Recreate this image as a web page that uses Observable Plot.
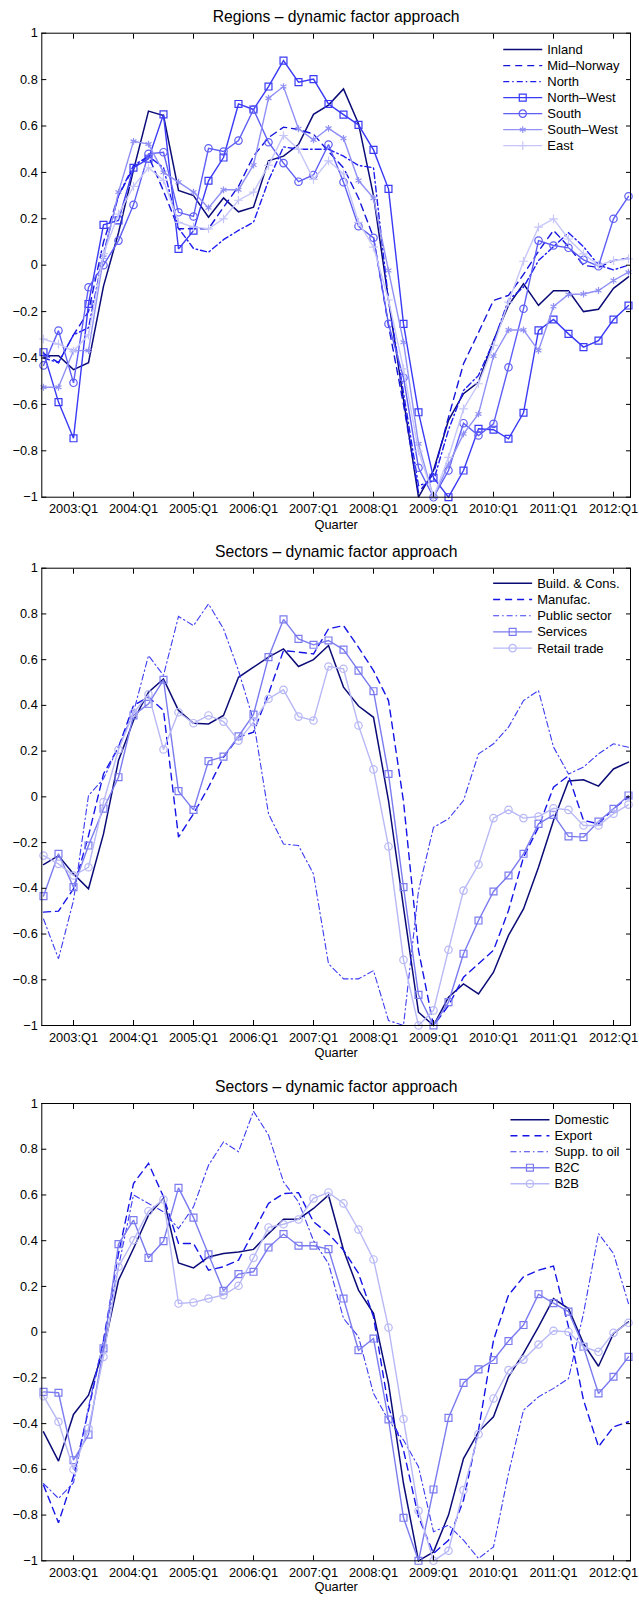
<!DOCTYPE html>
<html><head><meta charset="utf-8">
<script src="https://cdn.jsdelivr.net/npm/d3@7"></script>
<script src="https://cdn.jsdelivr.net/npm/@observablehq/plot@0.6"></script>
<style>
body{margin:0;background:#fff;}
#chart{width:639px;}
#chart svg{display:block;}
</style>
</head><body><div id="chart"></div>
<script>
// ---------- data ----------
const quarters = ["2002:Q3","2002:Q4","2003:Q1","2003:Q2","2003:Q3","2003:Q4","2004:Q1","2004:Q2","2004:Q3","2004:Q4",
  "2005:Q1","2005:Q2","2005:Q3","2005:Q4","2006:Q1","2006:Q2","2006:Q3","2006:Q4","2007:Q1","2007:Q2",
  "2007:Q3","2007:Q4","2008:Q1","2008:Q2","2008:Q3","2008:Q4","2009:Q1","2009:Q2","2009:Q3","2009:Q4",
  "2010:Q1","2010:Q2","2010:Q3","2010:Q4","2011:Q1","2011:Q2","2011:Q3","2011:Q4","2012:Q1","2012:Q2"];
const xTickLabels = ["2003:Q1","2004:Q1","2005:Q1","2006:Q1","2007:Q1","2008:Q1","2009:Q1","2010:Q1","2011:Q1","2012:Q1"];
const yTickValues = [-1,-0.8,-0.6,-0.4,-0.2,0,0.2,0.4,0.6,0.8,1];

// Panel 1: regions
const inland = [-0.39,-0.39,-0.45,-0.42,-0.09,0.14,0.41,0.664,0.645,0.322,0.3,0.207,0.29,0.23,0.25,0.45,0.47,0.52,0.65,0.69,0.76,0.61,0.3,-0.15,-0.58,-1.0,-0.885,-0.669,-0.554,-0.504,-0.325,-0.173,-0.08,-0.173,-0.11,-0.11,-0.2,-0.19,-0.1,-0.05];
const midNorway = [-0.38,-0.42,-0.3,-0.2,0.1,0.3,0.42,0.47,0.32,0.157,0.157,0.157,0.25,0.34,0.47,0.55,0.595,0.585,0.565,0.49,0.42,0.29,0.12,-0.26,-0.6,-0.98,-0.9,-0.655,-0.425,-0.29,-0.152,-0.13,-0.04,0.06,0.15,0.08,0.0,-0.01,0.02,0.03];
const north = [-0.4,-0.42,-0.3,-0.27,0.05,0.3,0.43,0.47,0.42,0.16,0.072,0.056,0.11,0.15,0.185,0.365,0.51,0.5,0.5,0.5,0.47,0.43,0.42,-0.15,-0.55,-0.95,-0.93,-0.71,-0.54,-0.475,-0.33,-0.15,-0.095,0.02,0.08,0.14,0.08,0.0,-0.02,0.0];
const northWest = [-0.375,-0.59,-0.746,-0.167,0.174,0.193,0.42,0.459,0.65,0.07,0.149,0.364,0.464,0.695,0.671,0.77,0.882,0.789,0.802,0.695,0.649,0.605,0.497,0.329,-0.253,-0.634,-0.916,-1.0,-0.885,-0.705,-0.709,-0.748,-0.636,-0.281,-0.234,-0.296,-0.353,-0.325,-0.234,-0.174];
const south = [-0.432,-0.282,-0.507,-0.095,0.0,0.106,0.26,0.48,0.487,0.228,0.21,0.504,0.49,0.537,0.671,0.53,0.44,0.36,0.389,0.52,0.358,0.168,0.118,-0.253,-0.485,-0.873,-1.0,-0.885,-0.681,-0.734,-0.684,-0.44,-0.188,0.106,0.085,0.075,0.023,-0.004,0.2,0.297];
const southWest = [-0.526,-0.526,-0.368,-0.368,0.034,0.315,0.534,0.522,0.4,0.358,0.315,0.247,0.325,0.325,0.432,0.72,0.77,0.588,0.54,0.59,0.547,0.365,0.289,-0.023,-0.332,-0.77,-1.0,-0.86,-0.727,-0.641,-0.392,-0.279,-0.279,-0.368,-0.178,-0.126,-0.124,-0.109,-0.066,-0.03];
const east = [-0.318,-0.34,-0.37,-0.3,0.05,0.22,0.34,0.42,0.366,0.185,0.164,0.157,0.2,0.28,0.315,0.43,0.559,0.5,0.37,0.45,0.394,0.185,0.078,-0.15,-0.447,-0.8,-1.0,-0.828,-0.619,-0.511,-0.346,-0.159,0.017,0.164,0.2,0.113,0.049,0.0,0.02,0.027];

// Panel 2: sectors
const buildCons = [-0.296,-0.257,-0.337,-0.402,-0.162,0.159,0.334,0.458,0.516,0.378,0.322,0.319,0.356,0.523,0.567,0.611,0.647,0.57,0.6,0.662,0.48,0.397,0.348,-0.016,-0.483,-0.942,-1.0,-0.876,-0.818,-0.862,-0.767,-0.606,-0.49,-0.308,-0.103,0.069,0.075,0.047,0.122,0.152];
const manufac = [-0.504,-0.5,-0.402,-0.17,0.1,0.217,0.4,0.436,0.378,-0.176,-0.074,0.042,0.173,0.261,0.283,0.45,0.64,0.633,0.625,0.735,0.749,0.654,0.552,0.421,-0.02,-0.67,-1.0,-0.913,-0.789,-0.73,-0.671,-0.497,-0.264,-0.133,0.042,0.093,-0.103,-0.118,-0.052,-0.001];
const publicSector = [-0.534,-0.708,-0.453,0.006,0.079,0.22,0.37,0.618,0.531,0.789,0.749,0.844,0.735,0.552,0.334,-0.074,-0.206,-0.213,-0.337,-0.73,-0.796,-0.796,-0.76,-0.978,-1.0,-0.41,-0.133,-0.096,-0.016,0.188,0.232,0.305,0.421,0.465,0.218,0.1,0.13,0.188,0.232,0.217];
const services = [-0.434,-0.249,-0.395,-0.213,-0.052,0.086,0.356,0.407,0.512,0.025,-0.057,0.156,0.176,0.265,0.36,0.611,0.776,0.691,0.665,0.684,0.644,0.552,0.462,0.1,-0.395,-0.866,-1.0,-0.898,-0.686,-0.541,-0.414,-0.344,-0.249,-0.118,-0.079,-0.173,-0.176,-0.108,-0.052,0.006];
const retailTrade = [-0.257,-0.293,-0.344,-0.308,-0.023,0.206,0.367,0.448,0.207,0.37,0.322,0.356,0.329,0.246,0.327,0.429,0.468,0.351,0.334,0.57,0.56,0.312,0.12,-0.217,-0.713,-1.0,-0.934,-0.669,-0.41,-0.296,-0.093,-0.057,-0.093,-0.086,-0.05,-0.057,-0.125,-0.125,-0.074,-0.034];

// Panel 3: sectors (market)
const domestic = [-0.436,-0.564,-0.36,-0.276,-0.079,0.227,0.366,0.512,0.585,0.303,0.281,0.329,0.344,0.351,0.362,0.431,0.494,0.494,0.541,0.599,0.359,0.184,0.082,-0.224,-0.662,-1.0,-0.961,-0.8,-0.553,-0.436,-0.37,-0.195,-0.093,0.023,0.147,0.103,-0.05,-0.149,-0.006,0.045];
const exportS = [-0.669,-0.834,-0.63,-0.341,-0.035,0.344,0.65,0.738,0.592,0.388,0.388,0.271,0.286,0.315,0.439,0.563,0.606,0.61,0.483,0.43,0.359,0.257,0.067,-0.327,-0.516,-0.808,-0.968,-0.91,-0.735,-0.429,-0.035,0.162,0.242,0.271,0.289,0.023,-0.297,-0.501,-0.414,-0.392];
const suppOil = [-0.662,-0.727,-0.659,-0.327,-0.035,0.286,0.6,0.563,0.526,0.453,0.548,0.73,0.832,0.789,0.966,0.862,0.657,0.57,0.4,0.3,0.06,-0.02,-0.268,-0.385,-0.472,-0.589,-0.873,-0.844,-0.91,-0.99,-0.939,-0.618,-0.341,-0.283,-0.246,-0.203,0.082,0.431,0.344,0.125];
const b2c = [-0.261,-0.265,-0.56,-0.448,-0.071,0.385,0.49,0.325,0.398,0.631,0.501,0.34,0.181,0.254,0.264,0.37,0.429,0.378,0.378,0.363,0.147,-0.079,-0.028,-0.382,-0.812,-1.0,-0.688,-0.375,-0.222,-0.163,-0.122,-0.039,0.031,0.166,0.127,0.09,-0.064,-0.268,-0.195,-0.108];
const b2b = [-0.28,-0.392,-0.601,-0.421,-0.108,0.286,0.402,0.529,0.58,0.125,0.13,0.147,0.162,0.203,0.325,0.458,0.472,0.493,0.585,0.611,0.563,0.449,0.318,0.02,-0.38,-0.781,-1.0,-0.956,-0.691,-0.446,-0.29,-0.166,-0.12,-0.054,0.006,0.001,-0.064,-0.086,-0.003,0.041];

// ---------- styles ----------
const FONT = "'Liberation Sans', Arial, Helvetica, sans-serif";
const DASH = "7,5", DASHDOT = "6,3,1.5,3";
const panels = [
  {title: "Regions \u2013 dynamic factor approach", height: 535, mt: 32.7, mb: 38.3, titleDy: -16, qDy: 27.8, legTop: 16.9, legStep: 16.0,
   series: [
    {name:"Inland", values: inland, color:"#0b0b78", width:1.5},
    {name:"Mid\u2013Norway", values: midNorway, color:"#1414da", width:1.4, dash: DASH},
    {name:"North", values: north, color:"#1c1cf2", width:1.4, dash: DASHDOT},
    {name:"North\u2013West", values: northWest, color:"#3a3af6", width:1.4, symbol:"square", r:3.9},
    {name:"South", values: south, color:"#5e5ef6", width:1.4, symbol:"circle", r:3.7},
    {name:"South\u2013West", values: southWest, color:"#9090f5", width:1.4, symbol:"asterisk", r:3.2},
    {name:"East", values: east, color:"#c6c6fa", width:1.4, symbol:"plus", r:2.9}
   ]},
  {title: "Sectors \u2013 dynamic factor approach", height: 534, mt: 32.7, mb: 44, titleDy: -16, qDy: 27.5, legTop: 15.6, legStep: 16.2,
   series: [
    {name:"Build. & Cons.", values: buildCons, color:"#0b0b78", width:1.5},
    {name:"Manufac.", values: manufac, color:"#1414e8", width:1.4, dash: DASH},
    {name:"Public sector", values: publicSector, color:"#3c3cf2", width:1.1, dash: DASHDOT},
    {name:"Services", values: services, color:"#7b7bf0", width:1.4, symbol:"square", r:3.9},
    {name:"Retail trade", values: retailTrade, color:"#b8b8f6", width:1.4, symbol:"circle", r:3.7}
   ]},
  {title: "Sectors \u2013 dynamic factor approach", height: 534, mt: 34, mb: 42.7, titleDy: -17, qDy: 26.5, legTop: 16.7, legStep: 16.0,
   series: [
    {name:"Domestic", values: domestic, color:"#0b0b78", width:1.5},
    {name:"Export", values: exportS, color:"#1414e8", width:1.4, dash: DASH},
    {name:"Supp. to oil", values: suppOil, color:"#3c3cf2", width:1.1, dash: DASHDOT},
    {name:"B2C", values: b2c, color:"#7b7bf0", width:1.4, symbol:"square", r:3.9},
    {name:"B2B", values: b2b, color:"#b8b8f6", width:1.4, symbol:"circle", r:3.7}
   ]}
];

const W = 639, ML = 41.3, MR = 9;
const yFmt = d => d === 0 ? "0" : (d < 0 ? "\u2212" : "") + String(+Math.abs(d).toFixed(1));
const container = document.getElementById("chart");

for (const p of panels) {
  const table = p.series.flatMap(s => s.values.map((v, i) => ({q: quarters[i], v, name: s.name})));
  const marks = [];
  for (const s of p.series) {
    const data = table.filter(d => d.name === s.name);
    marks.push(Plot.line(data, {x: "q", y: "v", stroke: s.color, strokeWidth: s.width, strokeDasharray: s.dash, strokeLinejoin: "miter", strokeMiterlimit: 2}));
    if (s.symbol) marks.push(Plot.dot(data, {x: "q", y: "v", symbol: s.symbol, r: s.r, stroke: s.color, fill: "none", strokeWidth: 1.2}));
  }
  const svg = Plot.plot({
    width: W, height: p.height,
    marginLeft: ML, marginRight: MR, marginTop: p.mt, marginBottom: p.mb,
    style: {fontFamily: FONT, fontSize: "13px", background: "#fff", color: "#000"},
    x: {type: "point", domain: quarters, padding: 0, align: 0.5},
    y: {domain: [-1, 1]},
    marks: [
      ...marks,
      Plot.frame({stroke: "#000", strokeWidth: 1}),
      Plot.axisX({anchor: "bottom", ticks: xTickLabels, tickSize: 0, tickPadding: 7.2, fontSize: 12.8, label: null}),
      Plot.axisX({anchor: "bottom", ticks: xTickLabels, tickSize: -5, tickFormat: () => "", label: null}),
      Plot.axisX({anchor: "top", ticks: xTickLabels, tickSize: -5, tickFormat: () => "", label: null}),
      Plot.axisY({anchor: "left", ticks: yTickValues, tickSize: 0, tickPadding: 4, tickFormat: yFmt, fontSize: 12.8, label: null}),
      Plot.axisY({anchor: "left", ticks: yTickValues, tickSize: -5, tickFormat: () => "", label: null}),
      Plot.axisY({anchor: "right", ticks: yTickValues, tickSize: -5, tickFormat: () => "", label: null}),
      Plot.text(["Quarter"], {text: d => d, frameAnchor: "bottom", lineAnchor: "middle", dy: p.qDy, fontSize: 12.8, fill: "#000"}),
      Plot.text([p.title], {text: d => d, frameAnchor: "top", lineAnchor: "middle", dy: p.titleDy, fontSize: 15.7, fill: "#000"})
    ]
  });
  container.appendChild(svg);

  // legend (MATLAB-style, no box, north-east corner)
  const right = W - MR, top = p.mt;
  const g = d3.select(svg).append("g").attr("class", "legend")
    .attr("font-family", FONT).attr("font-size", 13).attr("text-anchor", "start");
  const texts = p.series.map((s, k) => g.append("text")
      .attr("y", top + p.legTop + k * p.legStep).attr("dy", "0.35em").attr("fill", "#000").text(s.name));
  const maxW = d3.max(texts, t => t.node().getComputedTextLength());
  const textStart = right - 10.5 - maxW;
  texts.forEach(t => t.attr("x", textStart));
  p.series.forEach((s, k) => {
    const yy = top + p.legTop + k * p.legStep;
    const x1 = textStart - 5 - 39, x2 = textStart - 5;
    g.append("line").attr("x1", x1).attr("x2", x2).attr("y1", yy).attr("y2", yy)
      .attr("stroke", s.color).attr("stroke-width", s.width).attr("stroke-dasharray", s.dash || null);
    if (s.symbol) {
      const typ = {square: d3.symbolSquare, circle: d3.symbolCircle, asterisk: d3.symbolAsterisk, plus: d3.symbolPlus}[s.symbol];
      g.append("path").attr("d", d3.symbol(typ, Math.PI * s.r * s.r)())
        .attr("transform", `translate(${(x1 + x2) / 2},${yy})`)
        .attr("fill", "none").attr("stroke", s.color).attr("stroke-width", 1.2);
    }
  });
}
</script></body></html>
